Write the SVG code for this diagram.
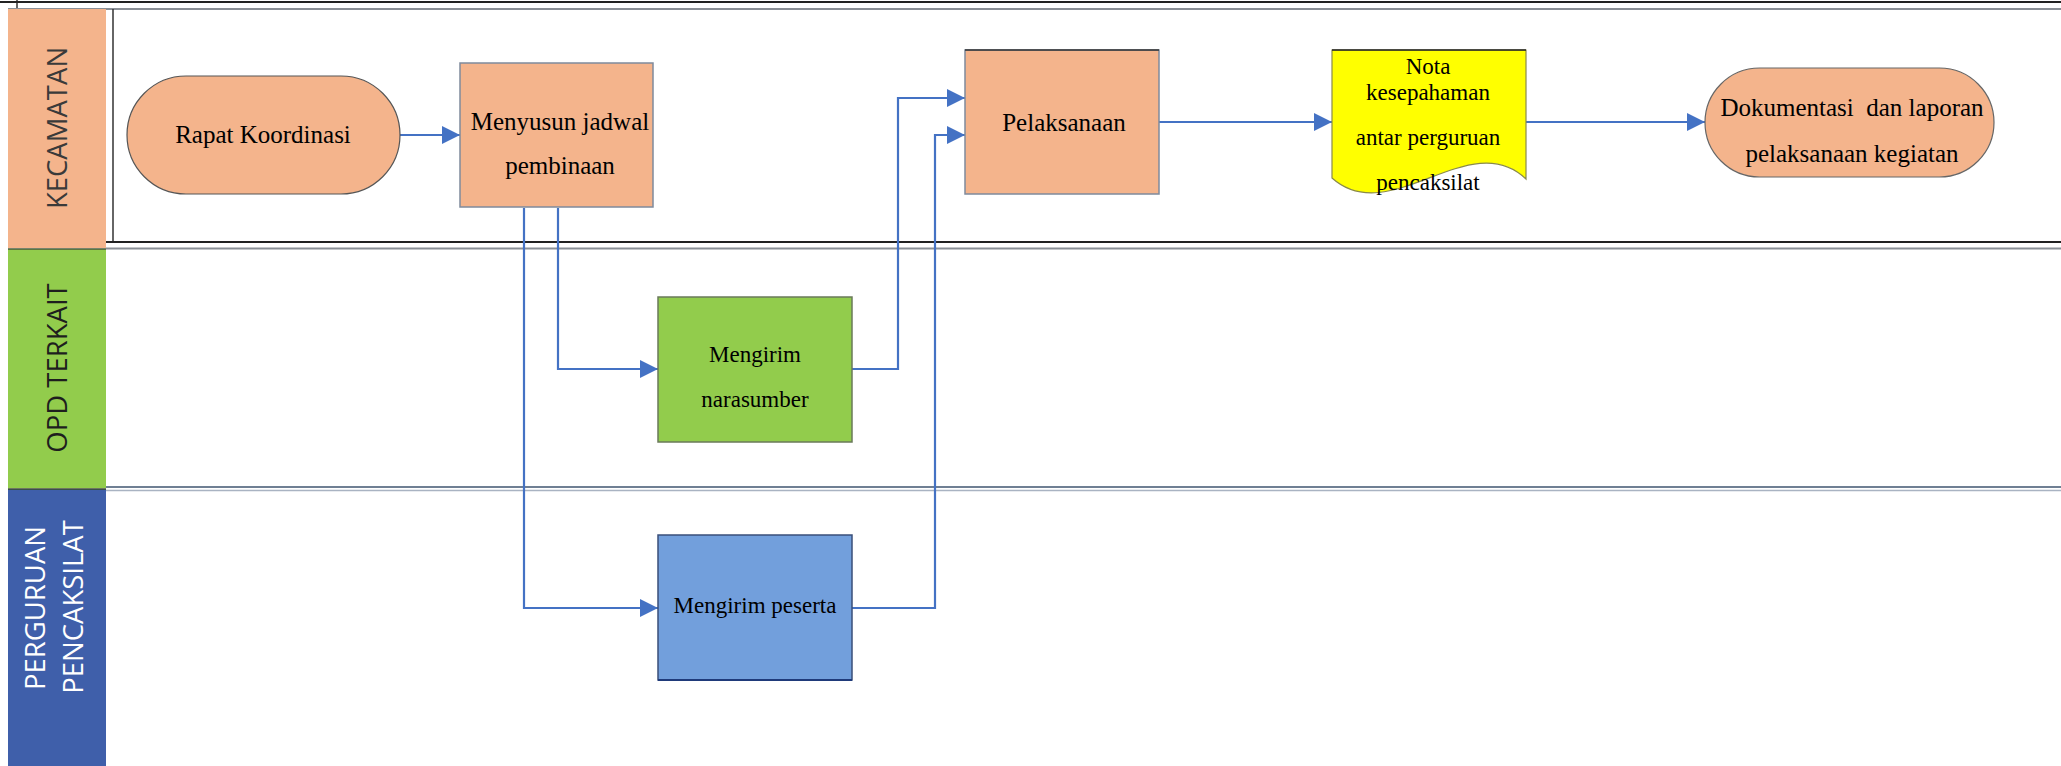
<svg xmlns="http://www.w3.org/2000/svg" width="2061" height="766" viewBox="0 0 2061 766">
<style>
.hdr{font-family:"Open Sans","Noto Sans",sans-serif;font-size:27.5px;text-anchor:middle}
.t{font-family:"Liberation Serif","Times New Roman",serif;font-size:25px;text-anchor:middle;fill:#000}
.s{font-family:"Liberation Serif","Times New Roman",serif;font-size:23px;text-anchor:middle;fill:#000}
.orange{fill:#F4B48C;stroke:#7f8a9c;stroke-width:1.5}
.con{fill:none;stroke:#4472C4;stroke-width:2.2}
.sep1{stroke:#222;stroke-width:2}
.sep2{stroke:#8a8f96;stroke-width:2}
</style>
<defs>
<marker id="arr" markerUnits="userSpaceOnUse" markerWidth="18" markerHeight="18" refX="16" refY="8" orient="auto" viewBox="0 0 16 16">
<path d="M0,0 L16,8 L0,16 Z" fill="#4472C4"/>
</marker>
</defs>
<rect x="0" y="0" width="2061" height="766" fill="#ffffff"/>

<g id="lanes">
<line x1="17" y1="0" x2="17" y2="8" stroke="#333" stroke-width="1.5"/>
<line x1="0" y1="2" x2="2061" y2="2" class="sep1"/>
<line x1="8" y1="9" x2="2061" y2="9" class="sep2"/>
<line x1="113" y1="9" x2="113" y2="242" stroke="#333" stroke-width="1.5"/>
<line x1="106" y1="242" x2="2061" y2="242" class="sep1"/>
<line x1="106" y1="248.5" x2="2061" y2="248.5" class="sep2"/>
<line x1="106" y1="487" x2="2061" y2="487" stroke="#6f7f93" stroke-width="2"/>
<line x1="106" y1="490.5" x2="2061" y2="490.5" stroke="#a9b3c2" stroke-width="1.5"/>
</g>

<g id="lane-kecamatan">
<rect x="8" y="9" width="98" height="239" fill="#F4B48C"/>
<text class="hdr" fill="#3a3a3a" font-size="28.5" transform="translate(67,128) rotate(-90)">KECAMATAN</text>
</g>
<g id="lane-opd">
<rect x="8" y="249" width="98" height="239" fill="#92CC4C"/>
<line x1="8" y1="249" x2="106" y2="249" stroke="#4a5a3a" stroke-width="1.5"/>
<text class="hdr" fill="#1e1e1e" transform="translate(67,368) rotate(-90)">OPD TERKAIT</text>
</g>
<g id="lane-perguruan">
<rect x="8" y="489" width="98" height="277" fill="#3F5FAA"/>
<line x1="8" y1="489" x2="106" y2="489" stroke="#3a4a2a" stroke-width="1.5"/>
<text class="hdr" fill="#ffffff" transform="translate(45,608) rotate(-90)">PERGURUAN</text>
<text class="hdr" fill="#ffffff" transform="translate(83,607) rotate(-90)">PENCAKSILAT</text>
</g>

<g id="connectors">
<line x1="400" y1="135" x2="460" y2="135" class="con" stroke-width="2.5" marker-end="url(#arr)"/>
<polyline points="558,208 558,369 658,369" class="con" marker-end="url(#arr)"/>
<polyline points="524,208 524,608 658,608" class="con" marker-end="url(#arr)"/>
<polyline points="852,369 898,369 898,98 965,98" class="con" marker-end="url(#arr)"/>
<polyline points="852,608 935,608 935,135 965,135" class="con" marker-end="url(#arr)"/>
<line x1="1159" y1="122" x2="1332" y2="122" class="con" stroke-width="2.5" marker-end="url(#arr)"/>
<line x1="1526" y1="122" x2="1705" y2="122" class="con" stroke-width="2.5" marker-end="url(#arr)"/>
</g>

<g id="rapat-koordinasi">
<rect x="127" y="76" width="273" height="118" rx="59" ry="59" fill="#F4B48C" stroke="#555" stroke-width="1.2"/>
<text class="t" x="263" y="143">Rapat Koordinasi</text>
</g>
<g id="menyusun-jadwal">
<rect x="460" y="63" width="193" height="144" class="orange"/>
<text class="t" x="560" y="130">Menyusun jadwal</text>
<text class="t" x="560" y="174">pembinaan</text>
</g>
<g id="pelaksanaan">
<rect x="965" y="50" width="194" height="144" class="orange"/>
<line x1="965" y1="50" x2="1159" y2="50" stroke="#333" stroke-width="1.5"/>
<text class="t" x="1064" y="131">Pelaksanaan</text>
</g>
<g id="nota">
<path d="M1332,50 H1526 V179 C1470,125 1390,230 1332,178 Z" fill="#FFFF00" stroke="#8a8a4a" stroke-width="1.2"/>
<line x1="1332" y1="50" x2="1526" y2="50" stroke="#222" stroke-width="1.5"/>
<text class="s" x="1428" y="74">Nota</text>
<text class="s" x="1428" y="100">kesepahaman</text>
<text class="s" x="1428" y="145">antar perguruan</text>
<text class="s" x="1428" y="190">pencaksilat</text>
</g>
<g id="dokumentasi">
<rect x="1705" y="68" width="289" height="109" rx="54.5" ry="54.5" fill="#F4B48C" stroke="#666" stroke-width="1.2"/>
<text class="t" x="1852" y="116" xml:space="preserve">Dokumentasi  dan laporan</text>
<text class="t" x="1852" y="162">pelaksanaan kegiatan</text>
</g>
<g id="mengirim-narasumber">
<rect x="658" y="297" width="194" height="145" fill="#92CC4C" stroke="#6a7a5a" stroke-width="1.5"/>
<text class="s" x="755" y="362">Mengirim</text>
<text class="s" x="755" y="407">narasumber</text>
</g>
<g id="mengirim-peserta">
<rect x="658" y="535" width="194" height="145" fill="#729FDC" stroke="#3a4f7a" stroke-width="1.5"/>
<line x1="658" y1="680" x2="852" y2="680" stroke="#1f3a7a" stroke-width="2"/>
<text class="s" x="755" y="613">Mengirim peserta</text>
</g>
</svg>
